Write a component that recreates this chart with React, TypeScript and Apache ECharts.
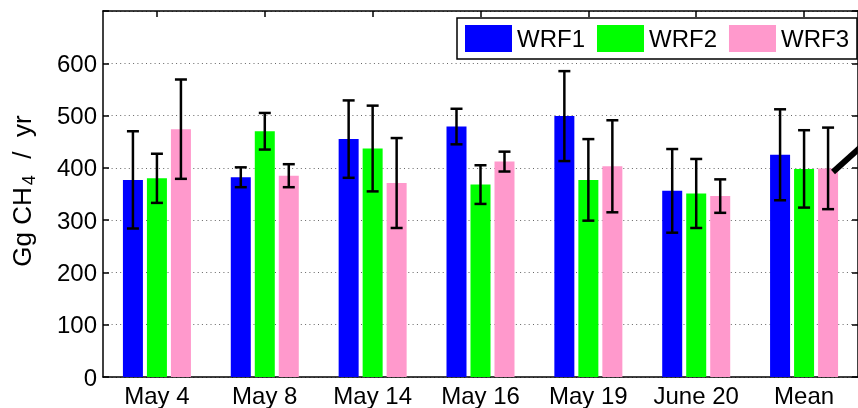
import React, { useEffect, useRef } from "react";
import * as echarts from "echarts";

const categories = ["May 4", "May 8", "May 14", "May 16", "May 19", "June 20", "Mean"];
const seriesNames = ["WRF1", "WRF2", "WRF3"];
const wrf1 = [377, 382, 455, 479, 499, 356, 425];
const wrf1Err = [93, 19, 74, 34, 86, 80, 87];
const wrf2 = [380, 470, 437, 368, 377, 351, 398];
const wrf2Err = [47, 35, 82, 37, 78, 66, 74];
const wrf3 = [474, 385, 371, 412, 403, 346, 399];
const wrf3Err = [95, 22, 86, 19, 88, 32, 78];
const yTicks = [0, 100, 200, 300, 400, 500, 600];
const colors = ["#0000ff", "#00ff00", "#ff99cc"];

const BAR_W = 20;
const BAR_GAP = 4;
const FONT = "'Liberation Sans', Arial, Helvetica, sans-serif";

export default function App() {
  const ref = useRef<HTMLDivElement>(null);
  useEffect(() => {
    if (!ref.current) return;
    const chart = echarts.init(ref.current, undefined, { renderer: "svg" });
    const values = [wrf1, wrf2, wrf3];
    const errs = [wrf1Err, wrf2Err, wrf3Err];
    const offsets = [-(BAR_W + BAR_GAP), 0, BAR_W + BAR_GAP];

    const errSeries = values.map((vals, s) => ({
      type: "custom",
      name: "err" + s,
      z: 5,
      data: vals.map((v, i) => [i, v - errs[s][i], v + errs[s][i]]),
      encode: { x: 0, y: [1, 2] },
      renderItem: (_params: any, api: any) => {
        const idx = api.value(0);
        const lo = api.coord([idx, api.value(1)]);
        const hi = api.coord([idx, api.value(2)]);
        const x = lo[0] + offsets[s];
        const half = 6;
        const style = { stroke: "#000", lineWidth: 2.5 };
        return {
          type: "group",
          children: [
            { type: "line", shape: { x1: x, y1: lo[1], x2: x, y2: hi[1] }, style },
            { type: "line", shape: { x1: x - half, y1: hi[1], x2: x + half, y2: hi[1] }, style },
            { type: "line", shape: { x1: x - half, y1: lo[1], x2: x + half, y2: lo[1] }, style },
          ],
        };
      },
    }));

    const barSeries = values.map((vals, s) => ({
      type: "bar",
      name: seriesNames[s],
      data: vals,
      barWidth: BAR_W,
      barGap: "20%",
      itemStyle: { color: colors[s] },
      z: 2,
    }));

    const axisLine = { show: true, onZero: false, lineStyle: { color: "#000", width: 1.5 } };
    const tick = { show: true, inside: true, length: 6, lineStyle: { color: "#000", width: 1.5 } };

    chart.setOption({
      animation: false,
      textStyle: { fontFamily: FONT },
      grid: { left: 103, right: -2, top: 11, bottom: 31 },
      legend: {
        data: seriesNames.map((n, i) => ({ name: n, icon: "rect", itemStyle: { color: colors[i] } })),
        left: 457,
        top: 18,
        orient: "horizontal",
        itemWidth: 47,
        itemHeight: 27,
        itemGap: 12,
        padding: [7, 8, 7, 8],
        borderColor: "#000",
        borderWidth: 1.5,
        backgroundColor: "#fff",
        textStyle: { fontSize: 24, color: "#000", fontFamily: FONT },
        selectedMode: false,
        z: 20,
      },
      xAxis: [
        {
          type: "category",
          data: categories,
          position: "bottom",
          axisLine,
          axisTick: { ...tick, alignWithLabel: true },
          axisLabel: { fontSize: 24, color: "#000", margin: 6, interval: 0, fontFamily: FONT },
          splitLine: { show: false },
        },
        {
          type: "category",
          data: categories,
          position: "top",
          axisLine,
          axisTick: { ...tick, alignWithLabel: true },
          axisLabel: { show: false },
          splitLine: { show: false },
        },
      ],
      yAxis: [
        {
          type: "value",
          min: 0,
          max: 700,
          interval: 100,
          axisLine,
          axisTick: tick,
          axisLabel: {
            fontSize: 24,
            color: "#000",
            margin: 6,
            fontFamily: FONT,
            formatter: (v: number) => (yTicks.includes(v) ? String(v) : ""),
          },
          splitLine: { show: true, lineStyle: { color: "#666", width: 1, type: [1, 3.3] } },
        },
        {
          type: "value",
          position: "right",
          min: 0,
          max: 700,
          interval: 100,
          axisLine,
          axisTick: tick,
          axisLabel: { show: false },
          splitLine: { show: false },
        },
      ],
      graphic: [
        {
          type: "text",
          x: 22,
          y: 191,
          rotation: Math.PI / 2,
          style: {
            text: "{a|Gg CH}{b|4}{a|  /  yr}",
            align: "center",
            verticalAlign: "middle",
            fill: "#000",
            rich: {
              a: { fontSize: 26, fontFamily: FONT, fill: "#000", lineHeight: 30 },
              b: { fontSize: 18, fontFamily: FONT, fill: "#000", padding: [14, 2, 0, 2] },
            },
          },
        },
        {
          type: "line",
          shape: { x1: 833, y1: 172, x2: 862, y2: 146 },
          style: { stroke: "#000", lineWidth: 6 },
          z: 100,
        },
      ],
      series: [...barSeries, ...errSeries],
    });
    return () => chart.dispose();
  }, []);
  return <div ref={ref} style={{ position: "fixed", left: 0, top: 0, width: 858, height: 408 }} />;
}
